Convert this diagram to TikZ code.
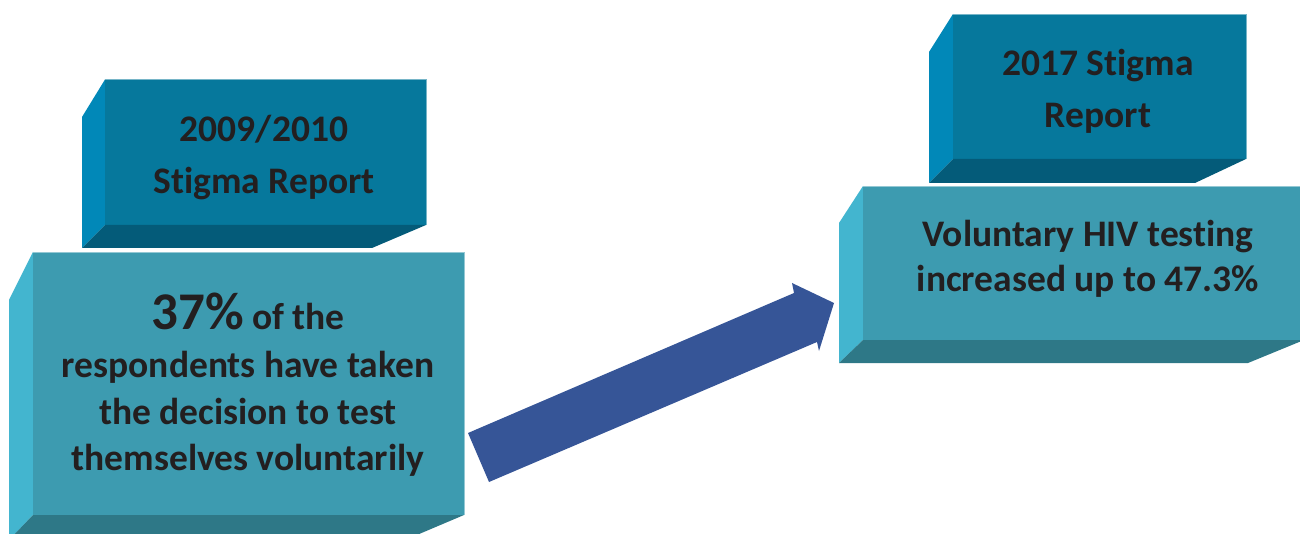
\documentclass[tikz,border=0pt]{standalone}
\usepackage{fontspec}
\setmainfont[Ligatures=NoCommon]{Carlito}
\definecolor{dfront}{HTML}{06789C}
\definecolor{dleft}{HTML}{0188B8}
\definecolor{dbottom}{HTML}{045B79}
\definecolor{lfront}{HTML}{3D9BB0}
\definecolor{lleft}{HTML}{43B5CF}
\definecolor{lbottom}{HTML}{2E7887}
\definecolor{arrowblue}{HTML}{365597}
\definecolor{txt}{HTML}{231F20}
% #1 outer left x, #2 front left x, #3 front top y, #4 bevel top y,
% #5 front right x, #6 front bottom y, #7 outer bottom y, #8 bottom right x, #9 colour prefix
\newcommand\threedbox[9]{%
  \fill[#9left] (#1,#4) -- (#2,#3) -- (#2,#6) -- (#1,#7) -- cycle;
  \fill[#9front] (#2,#3) rectangle (#5,#6);
  \fill[#9bottom] (#1,#7) -- (#2,#6) -- (#5,#6) -- (#8,#7) -- cycle;
  \draw[#9front!55!white, line width=0.8pt] (#2,#3) -- (#5,#3) -- (#5,#6);
}
\tikzset{
  lbl/.style={anchor=base, inner sep=0pt, text=txt, font=\bfseries\fontsize{37.5}{45}\selectfont},
  blockarrow/.style={fill=arrowblue}
}
\begin{document}
\begin{tikzpicture}[x=1pt,y=-1pt]
\useasboundingbox (0,0) rectangle (1300,534);
\clip (0,0) rectangle (1300,534);
% boxes
\threedbox{82}{105}{79.5}{117}{426}{225}{248}{372}{d}
\threedbox{9}{33}{252}{300}{464}{515}{540}{405}{l}
\threedbox{929}{953}{14}{52}{1246}{159}{183}{1195}{d}
\threedbox{839}{863}{186}{223}{1304}{340}{363}{1248}{l}
% texts
\node[lbl] (a1) at (264,141.7) {2009/2010};
\node[lbl] (a2) at (264,193.3) {Stigma Report};
\node[lbl] (c1) at (1098,76) {2017 Stigma};
\node[lbl] (c2) at (1098,127.7) {Report};
\node[anchor=base, inner sep=0pt, text=txt] (b1) at (248,329.3)
  {\bfseries\fontsize{53}{60}\selectfont 37\%\fontsize{37.5}{45}\selectfont{} of the};
\node[lbl] (b2) at (248,377.7) {respondents have taken};
\node[lbl] (b3) at (248,424.3) {the decision to test};
\node[lbl] (b4) at (248,470) {themselves voluntarily};
\node[lbl] (d1) at (1088,246.7) {Voluntary HIV testing};
\node[lbl] (d2) at (1088,291.7) {increased up to 47.3\%};
% arrow
\coordinate (t1) at (468,433);
\coordinate (t2) at (489,482);
\coordinate (s1) at (794,293);
\coordinate (s2) at (817,342);
\coordinate (h1) at (792,283);
\coordinate (h2) at (819,351);
\coordinate (tip) at (834,303);
\fill[blockarrow] (t1) -- (s1) -- (h1) -- (tip) -- (h2) -- (s2) -- (t2) -- cycle;
\end{tikzpicture}
\end{document}
